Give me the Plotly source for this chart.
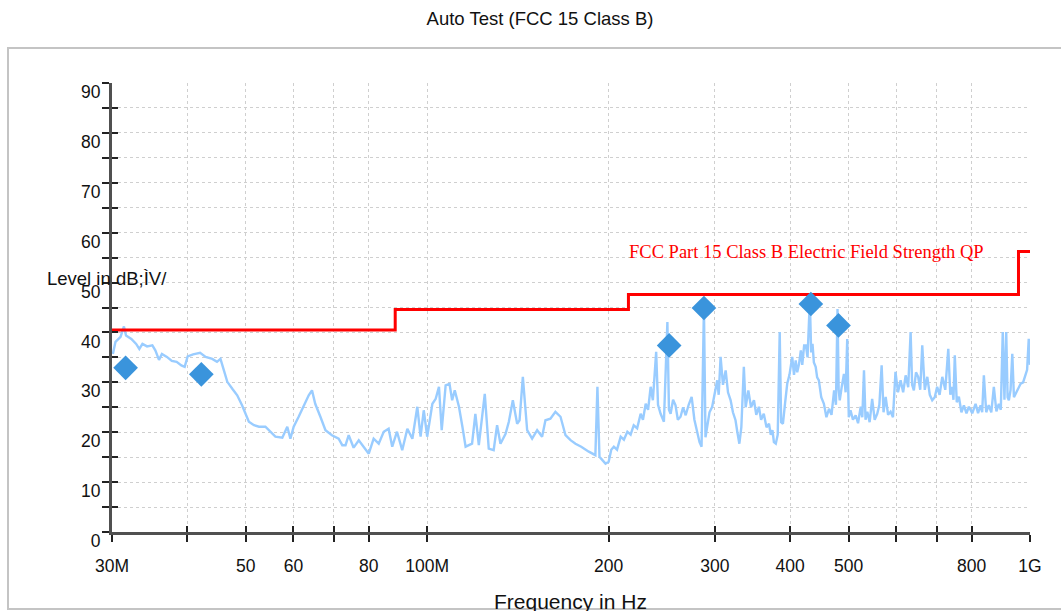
import math
import plotly.graph_objects as go

# ---------------- data ----------------
freq_mhz = [30.1, 30.4, 31.0, 31.4, 31.65, 32.3, 32.9, 33.3, 33.7, 34.3, 35.0, 35.4, 35.9, 36.3, 37.0,
            37.7, 38.4, 39.1, 39.6, 40.05, 40.9, 42.0, 42.9, 44.0, 44.8, 45.4, 46.0, 46.6, 47.5, 48.4,
            49.3, 49.9, 50.6, 51.6, 52.6, 53.9, 54.9, 56.0, 57.5, 58.6, 59.3, 60.05, 61.2, 62.4, 63.6,
            64.4, 65.2, 66.5, 67.8, 69.5, 70.4, 71.3, 72.3, 73.2, 74.1, 75.5, 77.0, 79.0, 80.0, 81.5,
            83.1, 84.7, 86.3, 87.5, 89.1, 90.9, 92.7, 94.5, 96.3, 97.5, 98.7, 100.0, 102.0, 103.3, 104.6,
            105.7, 107.3, 108.9, 110.0, 111.1, 112.9, 114.4, 115.8, 118.7, 120.2, 121.8, 124.6, 126.5, 128.9,
            130.6, 132.3, 134.9, 136.6, 138.7, 141.0, 142.3, 144.1, 146.5, 149.3, 152.2, 155.1, 157.1, 160.1,
            163.2, 166.4, 169.6, 172.9, 176.2, 180.1, 185.4, 190.1, 191.6, 193.1, 197.6,
            200.0, 202.0, 204.0, 206.5, 209.4, 212.0, 214.8, 217.5, 220.1, 223.0, 226.0, 228.0, 230.4, 232.5,
            234.8, 236.8, 239.8, 241.5, 243.9, 247.0, 250.3, 251.8, 253.4, 255.8, 258.2, 260.5, 263.2, 265.8,
            268.4, 271.5, 274.6, 277.5, 280.4, 283.0, 285.2, 287.8, 289.5, 291.5, 294.0,
            297.0, 300.0, 302.8, 304.5, 306.7, 309.5, 312.7, 315.5, 318.7, 321.5, 324.7, 327.0, 329.5, 332.0,
            335.2, 337.5, 341.0, 344.5, 348.4, 351.5, 355.0, 358.0, 361.7, 365.5, 369.0, 371.5, 373.9, 376.0,
            378.7, 381.5, 384.4, 386.5, 389.2, 392.5, 395.6, 399.0, 403.2, 406.0, 408.6, 411.0, 413.9, 416.7,
            419.0, 422.0, 424.8, 427.5, 431.3, 433.5, 435.7, 438.0, 441.0, 443.5, 446.4, 450.5, 455.1, 459.5,
            464.1, 468.5, 473.2, 476.5, 479.4, 481.5, 483.5, 487.0, 491.3, 494.5, 497.5, 500.5, 503.8, 508.5,
            513.8, 518.5, 523.8, 527.0, 530.4, 533.5, 537.2, 542.0, 547.2, 552.5, 557.9, 562.5, 567.4, 571.5,
            576.2, 581.5, 587.2, 592.5, 598.2, 604.0, 610.0, 616.0, 621.9, 628.0, 633.8, 637.5, 641.7, 647.0,
            652.3, 657.5, 662.6, 669.0, 675.5, 682.0, 688.4, 695.0, 701.4, 708.0, 715.3, 723.5, 731.9, 737.5,
            743.1, 746.5, 750.3, 756.0, 762.1, 769.5, 776.9, 784.5, 791.7, 802.0, 812.3, 820.0, 828.0, 833.0,
            838.4, 846.0, 854.3, 862.5, 871.0, 879.5, 887.7, 894.5, 901.1, 907.0, 913.2, 918.0, 922.5, 928.5,
            934.6, 940.5, 946.4, 955.5, 964.7, 974.0, 983.1, 989.0, 995.2, 1000.0]
level_dbuv = [35.7, 38.1, 39.1, 41.2, 39.4, 38.7, 37.7, 36.7, 37.7, 37.2, 37.4, 36.4, 34.5, 35.7, 35.1,
              34.3, 34.1, 33.4, 33.1, 35.2, 35.6, 35.9, 35.1, 34.7, 34.1, 34.7, 32.4, 30.1, 28.7, 27.4,
              25.4, 23.7, 22.1, 21.4, 21.1, 21.1, 20.1, 19.1, 18.9, 21.1, 18.7, 21.1, 23.1, 25.4, 27.4,
              28.4, 25.7, 23.1, 20.4, 19.4, 19.1, 18.7, 17.4, 17.4, 19.4, 16.9, 18.4, 16.7, 15.7, 18.7,
              17.7, 20.1, 20.7, 17.1, 20.1, 16.4, 20.7, 18.7, 25.1, 19.1, 24.4, 19.1, 25.7, 26.7, 29.1,
              20.4, 29.4, 29.7, 26.4, 28.4, 25.1, 21.1, 17.1, 17.7, 23.7, 17.4, 27.7, 16.7, 16.4,
              21.4, 17.7, 19.7, 22.1, 26.4, 21.7, 22.4, 31.1, 20.4, 18.7, 20.4, 19.1, 22.4, 22.7,
              24.1, 23.1, 19.4, 18.4, 17.7, 17.1, 16.1, 15.4, 29.1, 15.1, 13.7,
              14.1, 16.5, 17.1, 16.5, 19.1, 18.5, 20.1, 19.5, 21.4, 20.8, 23.7, 22.5, 25.7, 24.5,
              29.1, 26.4, 36.1, 25.5, 23.7, 22.1, 42.1, 24.5, 23.7, 26.5, 25.4, 22.5, 23.1, 25.0,
              23.4, 25.5, 27.1, 22.5, 20.4, 18.0, 17.1, 45.1, 19.0, 21.7, 24.0,
              25.1, 28.0, 30.4, 27.5, 35.1, 29.5, 32.4, 28.0, 26.4, 24.0, 22.4, 20.0, 17.7, 21.0,
              33.1, 25.0, 28.4, 25.0, 26.4, 23.5, 25.1, 22.5, 23.7, 21.0, 21.7, 19.5, 20.4, 18.0,
              17.7, 19.5, 40.1, 22.0, 21.7, 26.0, 29.7, 31.5, 35.1, 31.5, 34.4, 32.0, 33.7, 36.4,
              33.5, 37.4, 37.4, 35.0, 46.4, 36.0, 37.7, 34.0, 33.1, 31.0, 30.4, 27.0, 25.7, 23.0,
              24.7, 23.5, 28.4, 25.5, 44.7, 28.5, 26.4, 29.0, 31.7, 28.0, 38.7, 23.0, 24.4, 22.5,
              23.4, 21.8, 25.1, 23.0, 32.4, 22.5, 24.1, 22.0, 26.7, 22.5, 23.7, 25.5, 33.4, 24.0,
              27.1, 23.5, 24.1, 23.0, 32.1, 28.0, 30.4, 28.0, 31.4, 29.0, 40.1, 29.5, 28.4, 32.0,
              31.1, 28.5, 37.4, 28.5, 31.1, 27.5, 26.4, 27.0, 29.1, 27.5, 31.1, 28.5, 36.7, 27.5,
              29.1, 26.5, 35.4, 26.0, 27.1, 24.0, 25.4, 23.8, 25.1, 23.8, 25.7, 23.8, 25.4, 24.0,
              31.4, 24.0, 25.4, 24.0, 29.1, 24.2, 25.7, 24.5, 40.1, 26.5, 40.1, 27.0, 26.4, 28.5,
              35.7, 27.0, 27.7, 28.5, 29.7, 30.0, 31.7, 32.5, 38.7, 33.5]

qp_freq_mhz = [31.6, 42.2, 252.0, 287.8, 433.0, 481.2]
qp_level_dbuv = [32.9, 31.6, 37.4, 44.9, 45.7, 41.4]

limit_edges_mhz = [30, 88.5, 215.7, 957, 1000]
limit_levels = [40.5, 44.6, 47.6, 56.2, 56.2]
limit_name = "FCC Part 15 Class B Electric Field Strength QP"

x_tick_vals = [30, 40, 50, 60, 70, 80, 100, 200, 300, 400, 500, 600, 700, 800, 1000]
x_tick_text = ["30M", "", "50", "60", "", "80", "100M", "200", "300", "400", "500", "", "", "800", "1G"]
y_tick_vals = list(range(0, 95, 5))
y_tick_text = [str(v) if v % 10 == 0 else "" for v in y_tick_vals]

title_text = "Auto Test (FCC 15 Class B)"
x_title = "Frequency in Hz"
y_title = "Level in dB;ÌV/"

# ---------------- figure ----------------
W, H = 1061, 611
ML, MR, MT, MB = 112, 31, 83, 79
SANS = "Liberation Sans, Arial, sans-serif"
SERIF = "Liberation Serif, Times New Roman, serif"

xr = [math.log10(30), math.log10(1000)]
yr = [0, 90]

fig = go.Figure()

fig.add_trace(go.Scatter(x=freq_mhz, y=level_dbuv, mode="lines",
                         line=dict(color="#99CCFF", width=2.4),
                         hoverinfo="skip", showlegend=False))
fig.add_trace(go.Scatter(x=limit_edges_mhz, y=limit_levels, mode="lines",
                         line=dict(color="#FF0000", width=3, shape="hv"),
                         name=limit_name, hoverinfo="skip", showlegend=False))
fig.add_trace(go.Scatter(x=qp_freq_mhz, y=qp_level_dbuv, mode="markers",
                         marker=dict(symbol="diamond", size=19, color="#3A94DC",
                                     line=dict(width=0)),
                         xaxis="x2", yaxis="y2", hoverinfo="skip", showlegend=False))

axis_font = dict(family=SANS, size=17.5, color="#111111")

fig.update_layout(
    width=W, height=H,
    margin=dict(l=ML, r=MR, t=MT, b=MB, pad=0),
    paper_bgcolor="white", plot_bgcolor="white",
    title=dict(text=title_text, x=540 / W, xanchor="center", xref="container",
               y=1 - 19 / H, yanchor="middle", yref="container",
               font=dict(family=SANS, size=18.5, color="#111111")),
    xaxis=dict(type="log", range=xr, tickvals=x_tick_vals, ticktext=x_tick_text,
               ticks="outside", ticklen=7, tickwidth=2, tickcolor="#222222",
               ticklabelstandoff=9, tickfont=axis_font,
               showline=True, linewidth=3, linecolor="#505050",
               showgrid=True, gridcolor="#CFCFCF", griddash="dot", gridwidth=1,
               zeroline=False, fixedrange=True),
    yaxis=dict(range=yr, tickvals=y_tick_vals, ticktext=y_tick_text,
               ticks="outside", ticklen=7, tickwidth=2, tickcolor="#222222",
               ticklabelstandoff=-2, ticklabelshift=9, tickfont=axis_font,
               showline=True, linewidth=3, linecolor="#505050",
               showgrid=True, gridcolor="#CFCFCF", griddash="dot", gridwidth=1,
               zeroline=False, fixedrange=True),
    xaxis2=dict(type="log", range=xr, overlaying="x", anchor="y2", side="bottom",
                tickvals=x_tick_vals, ticks="inside", ticklen=6, tickwidth=2,
                tickcolor="#222222", showticklabels=False, showgrid=False,
                showline=False, zeroline=False, fixedrange=True),
    yaxis2=dict(range=yr, overlaying="y", anchor="x2", side="left",
                tickvals=y_tick_vals, ticks="inside", ticklen=6, tickwidth=2,
                tickcolor="#222222", showticklabels=False, showgrid=False,
                showline=False, zeroline=False, fixedrange=True),
)

PW = W - ML - MR
PH = H - MT - MB

def px_x(p):
    return (p - ML) / PW

def px_y(p):
    return (H - MB - p) / PH

# outer frame
fig.add_shape(type="rect", xref="paper", yref="paper",
              x0=px_x(8), x1=px_x(1070), y0=px_y(609), y1=px_y(48),
              line=dict(color="#C4C4C4", width=2), fillcolor="rgba(0,0,0,0)", layer="below")

fig.add_annotation(text=limit_name, xref="paper", yref="paper",
                   x=px_x(627), y=px_y(252), xanchor="left", yanchor="middle",
                   showarrow=False, font=dict(family=SERIF, size=18.5, color="#FF0000"))
fig.add_annotation(text=y_title, xref="paper", yref="paper",
                   x=px_x(45), y=px_y(278), xanchor="left", yanchor="middle",
                   showarrow=False, font=dict(family=SANS, size=18.5, color="#111111"))
fig.add_annotation(text=x_title, xref="paper", yref="paper",
                   x=px_x(570), y=px_y(601), xanchor="center", yanchor="middle",
                   showarrow=False, font=dict(family=SANS, size=21, color="#111111"))

fig.write_html("out.html", config={"displayModeBar": False},
               post_script="document.body.style.margin='0';document.body.style.overflow='hidden';")
